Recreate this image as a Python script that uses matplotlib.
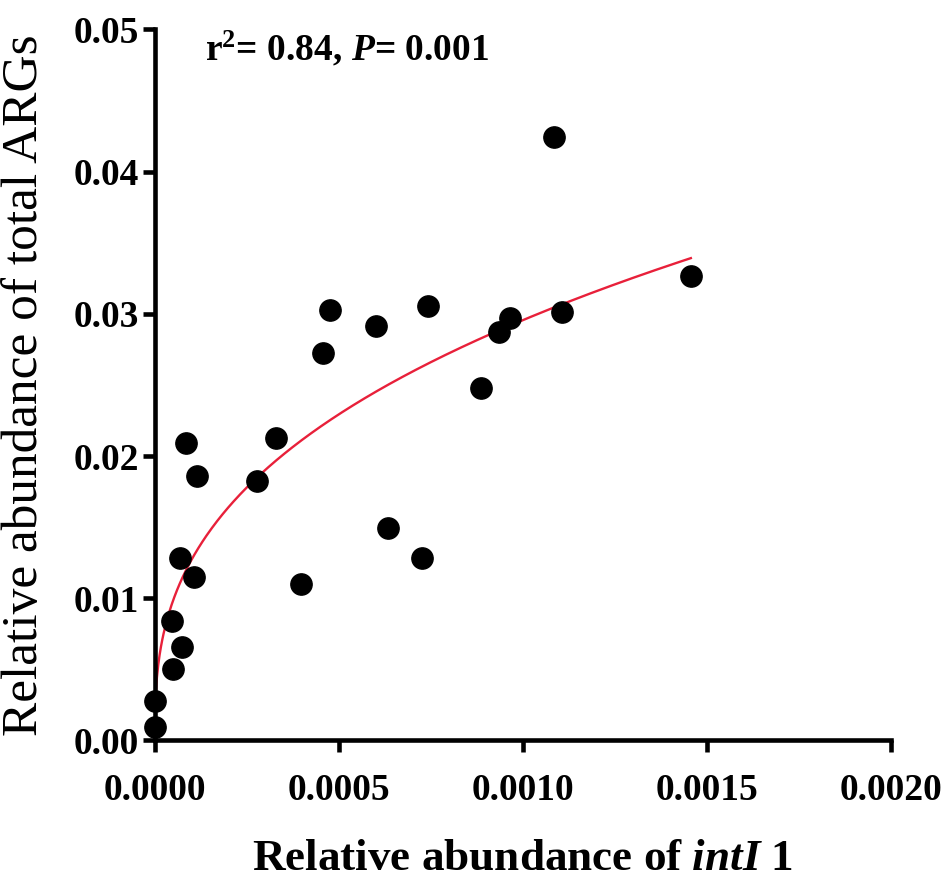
import numpy as np
import matplotlib
matplotlib.use("Agg")
import matplotlib.pyplot as plt

# intI1 relative abundance (x) vs total ARGs relative abundance (y)
intI1 = [0.0, 0.0, 0.0000454, 0.0000497, 0.0000742, 0.0000679, 0.000106,
         0.0000834, 0.000114, 0.000278, 0.000329, 0.000396, 0.000633,
         0.000727, 0.000456, 0.000476, 0.000600, 0.000743, 0.001084,
         0.001456, 0.001105, 0.000966, 0.000935, 0.000886]
args_total = [0.00093, 0.00278, 0.00842, 0.00505, 0.00660, 0.01286, 0.01152,
              0.02090, 0.01862, 0.01825, 0.02125, 0.01103, 0.01496,
              0.01283, 0.02723, 0.03027, 0.02915, 0.03056, 0.04246,
              0.03267, 0.03011, 0.02969, 0.02871, 0.02479]

x_ticks = [0.0, 0.0005, 0.0010, 0.0015, 0.0020]
y_ticks = [0.00, 0.01, 0.02, 0.03, 0.04, 0.05]

x = np.array(intI1)
y = np.array(args_total)

# power fit y = a * x^b (least squares, grid over b)
best = None
for b in np.linspace(0.05, 1.0, 951):
    xb = x ** b
    a = np.sum(y * xb) / np.sum(xb * xb)
    sse = np.sum((y - a * xb) ** 2)
    if best is None or sse < best[0]:
        best = (sse, a, b)
_, a_fit, b_fit = best
xf = np.linspace(2e-6, x.max(), 400)
yf = a_fit * xf ** b_fit

plt.rcParams['font.family'] = ['Liberation Serif', 'DejaVu Serif']
plt.rcParams['mathtext.fontset'] = 'custom'
plt.rcParams['mathtext.rm'] = 'Liberation Serif:bold'
plt.rcParams['mathtext.it'] = 'Liberation Serif:italic:bold'
plt.rcParams['mathtext.bf'] = 'Liberation Serif:bold'

fig = plt.figure(figsize=(9.5, 8.85), dpi=100)
ax = fig.add_axes([0.163, 0.1633, 0.775, 0.8034])

ax.plot(xf, yf, color='#e8203a', lw=1.7, zorder=2)
ax.scatter(x, y, s=235, color='black', zorder=3, clip_on=False)

ax.set_xlim(0, 0.002)
ax.set_ylim(0, 0.05)
ax.set_xticks(x_ticks)
ax.set_yticks(y_ticks)
ax.set_xticklabels([f"{v:.4f}" for v in x_ticks], fontsize=27, fontweight='bold')
ax.set_yticklabels([f"{v:.2f}" for v in y_ticks], fontsize=27, fontweight='bold')

for s in ['top', 'right']:
    ax.spines[s].set_visible(False)
for s in ['left', 'bottom']:
    ax.spines[s].set_linewidth(3.3)
ax.tick_params(direction='out', length=8.5, width=3.3, pad=3)
ax.tick_params(axis='x', pad=15)

ax.set_xlabel(r'Relative abundance of $\mathit{intI}$ 1', fontsize=32.5,
              fontweight='bold', labelpad=22)
ax.set_ylabel('Relative abundance of total ARGs', fontsize=37, labelpad=18)

ax.text(0.000136, 0.04785, r'r$^{2}$= 0.84, $\mathit{P}$= 0.001', fontsize=27,
        fontweight='bold', va='baseline', ha='left')

fig.savefig('out.png', dpi=100)
